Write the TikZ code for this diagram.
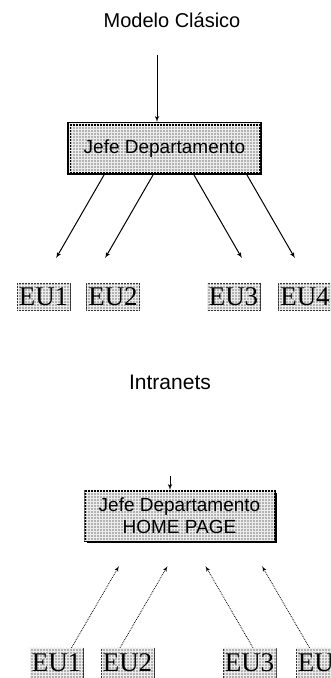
\documentclass[tikz,border=0pt]{standalone}
\usepackage{fontspec}
\setmainfont{Liberation Sans}
\newfontfamily\eufont{Liberation Serif}
\usetikzlibrary{shapes,arrows,patterns,shadows}

\begin{document}
\begin{tikzpicture}[x=1pt, y=1pt, auto]
  \tikzstyle{titulo} = [font=\fontsize{20}{22}\selectfont]
  \tikzstyle{jefe} = [rectangle, draw, line width=4pt, fill=gray!60,
    postaction={pattern=grid, pattern color=white!85!gray},
    minimum width=191pt, minimum height=49pt, inner sep=0pt,
    font=\fontsize{19}{22}\selectfont]
  \tikzstyle{home} = [rectangle, draw, line width=2pt, fill=gray!60,
    postaction={pattern=grid, pattern color=white!85!gray},
    drop shadow={shadow xshift=2pt, shadow yshift=-2pt, opacity=1, fill=black},
    minimum width=190pt, minimum height=50pt, inner sep=0pt, align=center,
    font=\fontsize{19}{22}\selectfont]
  \tikzstyle{eu} = [rectangle, draw=gray!40!black, fill=gray!60,
    postaction={pattern=grid, pattern color=white!85!gray},
    minimum width=53pt, minimum height=27pt, inner sep=0pt,
    font=\eufont\fontsize{27}{27}\selectfont]
  \tikzstyle{line} = [draw, -latex', line width=1pt]
  \tikzstyle{weak} = [draw, -latex', densely dotted, line width=0.8pt]

  \useasboundingbox (0,0) rectangle (331,678);

  % Place nodes
  \node [titulo] (modelo) at (172,658) {Modelo Clásico};
  \coordinate (entrada1) at (157,623);
  \node [jefe] (jefe1) at (164.5,529.5) {Jefe Departamento};

  \node [eu] (eu1) at (43.5,381) {EU1};
  \node [eu] (eu2) at (113,381) {EU2};
  \node [eu] (eu3) at (233.5,381) {EU3};
  \node [eu] (eu4) at (305,381) {EU4};

  \node [titulo, font=\fontsize{21}{22}\selectfont] (intranets) at (170,296) {Intranets};
  \coordinate (entrada2) at (170,202);
  \node [home] (jefe2) at (179.5,162) {Jefe Departamento\\HOME PAGE};

  \node [eu, minimum height=30pt] (eu5) at (56.5,15) {EU1};
  \node [eu, minimum height=30pt] (eu6) at (127.5,15) {EU2};
  \node [eu, minimum height=30pt] (eu7) at (249.5,15) {EU3};
  \node [eu, minimum height=30pt] (eu8) at (322.5,15) {EU4};

  % Draw edges
  \path [line] (entrada1) -- ([xshift=-7.5pt]jefe1.north);
  \path [line, shorten >=29pt] ([xshift=-60.5pt]jefe1.south) -- ([xshift=-1.9pt]eu1.north);
  \path [line, shorten >=29pt] ([xshift=-11.5pt]jefe1.south) -- ([xshift=-22.4pt]eu2.north);
  \path [line, shorten >=29pt] ([xshift=29.5pt]jefe1.south) -- ([xshift=22.9pt]eu3.north);
  \path [line, shorten >=29pt] ([xshift=82.5pt]jefe1.south) -- ([xshift=4.4pt]eu4.north);

  \path [line] (entrada2) -- ([xshift=-9.5pt]jefe2.north);
  \path [weak, shorten >=28pt] ([xshift=15pt]eu5.north) -- ([xshift=-46.5pt]jefe2.south);
  \path [weak, shorten >=28pt] ([xshift=-7.5pt]eu6.north) -- ([xshift=2pt]jefe2.south);
  \path [weak, shorten >=28pt] ([xshift=3.5pt]eu7.north) -- ([xshift=12pt]jefe2.south);
  \path [weak, shorten >=28pt] ([xshift=-13pt]eu8.north) -- ([xshift=68.5pt]jefe2.south);
\end{tikzpicture}
\end{document}
